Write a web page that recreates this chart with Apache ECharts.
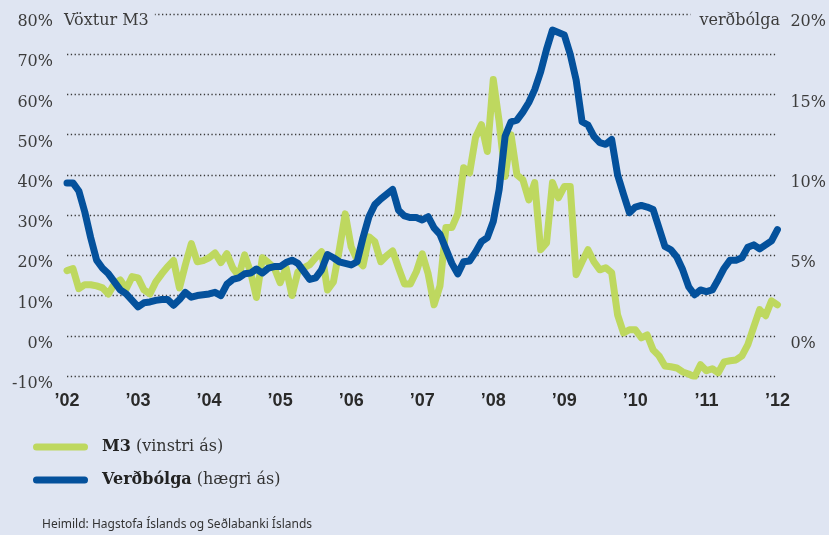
<!DOCTYPE html>
<html>
<head>
<meta charset="utf-8">
<title>Vöxtur M3 og verðbólga</title>
<script src="https://cdn.jsdelivr.net/npm/echarts@6/dist/echarts.min.js"></script>
<style>
	html, body { margin: 0; padding: 0; background: #dfe5f2; }
	#chart { width: 829px; height: 535px; }
</style>
</head>
<body>
<div id="chart"></div>
<script>
// mánuðir jan 2002 - jan 2012
const years = ['2002', '2003', '2004', '2005', '2006', '2007', '2008', '2009', '2010', '2011', '2012']
const months = ['01', '02', '03', '04', '05', '06', '07', '08', '09', '10', '11', '12']

// M3, 12 mánaða vöxtur (vinstri ás, %)
const m3 = [
	16.2, 16.7, 11.7, 12.7, 12.7, 12.4, 11.9, 10.4, 12.9, 13.9, 11.7, 14.7,
	14.4, 11.4, 10.4, 13.4, 15.4, 17.2, 18.7, 11.9, 17.7, 22.9, 18.4, 18.7,
	19.4, 20.6, 18.2, 20.4, 16.9, 14.9, 20.1, 15.9, 9.5, 19.4, 18.2, 16.9,
	13.2, 16.9, 10.0, 15.9, 16.9, 17.7, 19.4, 20.9, 11.4, 13.4, 21.4, 30.3,
	22.1, 18.9, 17.4, 24.6, 23.4, 18.4, 19.9, 21.1, 16.9, 12.9, 12.9, 15.9,
	20.4, 15.4, 7.7, 12.4, 26.9, 26.9, 30.3, 41.8, 40.5, 49.3, 52.5, 45.8,
	63.7, 53.2, 39.6, 50.0, 40.0, 38.8, 33.8, 38.1, 21.4, 23.1, 38.1, 34.3,
	37.1, 37.1, 15.2, 18.4, 21.4, 18.4, 16.4, 16.9, 15.7, 5.2, 0.7, 1.5,
	1.5, -0.5, 0.2, -3.5, -5.0, -7.5, -7.7, -8.0, -9.0, -9.5, -10.2, -7.2,
	-8.7, -8.2, -9.2, -6.5, -6.2, -6.0, -5.0, -2.2, 2.2, 6.5, 5.0, 8.7,
	7.7
]

// verðbólga (hægri ás, %)
const inflation = [
	9.5, 9.5, 9.0, 7.7, 6.1, 4.7, 4.2, 3.85, 3.35, 2.85, 2.6, 2.2,
	1.8, 2.05, 2.1, 2.2, 2.25, 2.25, 1.9, 2.25, 2.7, 2.4, 2.5, 2.55,
	2.6, 2.7, 2.5, 3.2, 3.5, 3.6, 3.85, 3.9, 4.15, 3.9, 4.2, 4.3,
	4.3, 4.55, 4.7, 4.5, 4.0, 3.5, 3.6, 4.1, 5.05, 4.85, 4.6, 4.5,
	4.4, 4.6, 6.1, 7.4, 8.15, 8.5, 8.8, 9.1, 7.8, 7.45, 7.35, 7.35,
	7.2, 7.4, 6.7, 6.3, 5.4, 4.5, 3.85, 4.6, 4.65, 5.2, 5.85, 6.1,
	7.1, 9.1, 12.4, 13.3, 13.4, 13.9, 14.5, 15.3, 16.4, 17.8, 19.0, 18.85,
	18.7, 17.5, 15.9, 13.3, 13.1, 12.4, 12.0, 11.9, 12.2, 10.0, 8.8, 7.65,
	8.0, 8.1, 8.0, 7.85, 6.7, 5.55, 5.35, 4.9, 4.1, 3.05, 2.55, 2.85,
	2.75, 2.85, 3.5, 4.2, 4.7, 4.7, 4.85, 5.5, 5.65, 5.4, 5.65, 5.9,
	6.6
]

// flokkar á x-ás
let categories = []
years.forEach(y => {
	months.forEach(m => {
		if (categories.length < m3.length) categories.push(y + '-' + m)
	})
})

const bg = '#dfe5f2'
const green = '#bed85f'
const blue = '#04519c'
const serif = 'DejaVu Serif'

let myChart = echarts.init(document.getElementById('chart'));

let option = {
	backgroundColor: bg,
	animation: false,
	title: [
		{
			text: 'Vöxtur M3',
			left: 62,
			top: 13,
			padding: [0, 6, 4, 2],
			backgroundColor: bg,
			textStyle: { fontFamily: serif, fontSize: 16, fontWeight: 'normal', color: '#3c3c3c' }
		},
		{
			text: 'verðbólga',
			right: 47,
			top: 13,
			padding: [0, 2, 4, 9],
			backgroundColor: bg,
			textStyle: { fontFamily: serif, fontSize: 16, fontWeight: 'normal', color: '#3c3c3c' }
		}
	],
	legend: {
		orient: 'vertical',
		left: 33,
		top: 438,
		padding: 0,
		itemWidth: 55,
		itemHeight: 7,
		itemGap: 15,
		icon: 'path://M3.5,0 H51.5 A3.5,3.5 0 0 1 51.5,7 H3.5 A3.5,3.5 0 0 1 3.5,0 Z',
		data: ['M3', 'Verðbólga'],
		formatter: name => name === 'M3' ? '{b|M3} (vinstri ás)' : '{b|Verðbólga} (hægri ás)',
		textStyle: {
			fontFamily: serif,
			fontSize: 16,
			color: '#333',
			lineHeight: 18,
			padding: [0, 0, 0, 9],
			rich: {
				b: { fontFamily: serif, fontSize: 16, fontWeight: 'bold', color: '#222' }
			}
		}
	},
	graphic: [
		{
			type: 'text',
			left: 42,
			top: 519,
			style: {
				text: 'Heimild: Hagstofa Íslands og Seðlabanki Íslands',
				font: '12px "Noto Sans"',
				fill: '#333'
			}
		}
	],
	grid: {
		left: 67,
		right: 49,
		top: 14,
		bottom: 159
	},
	xAxis: {
		type: 'category',
		boundaryGap: false,
		data: categories,
		axisLine: { show: false },
		axisTick: { show: false },
		splitLine: { show: false },
		axisLabel: {
			interval: idx => idx % 12 === 0,
			formatter: v => '’' + v.slice(2, 4),
			margin: 16,
			fontFamily: 'Liberation Sans',
			fontWeight: 'bold',
			fontSize: 18,
			color: '#2a2a2a'
		}
	},
	yAxis: [
		{
			type: 'value',
			min: -10,
			max: 80,
			interval: 10,
			axisLine: { show: false },
			axisTick: { show: false },
			axisLabel: {
				formatter: '{value}%',
				margin: 14,
				verticalAlign: 'top',
				lineHeight: 16,
				fontFamily: serif,
				fontSize: 16,
				color: '#3c3c3c'
			},
			splitLine: { //punktalínur
				lineStyle: {
					color: '#3a3a3a',
					width: 1.3,
					type: [1.3, 2.5]
				}
			}
		},
		{
			type: 'value',
			min: -2.5,
			max: 20,
			interval: 2.5,
			axisLine: { show: false },
			axisTick: { show: false },
			splitLine: { show: false },
			axisLabel: {
				formatter: v => (v % 5 === 0 ? v + '%' : ''),
				margin: 13,
				verticalAlign: 'top',
				lineHeight: 16,
				fontFamily: serif,
				fontSize: 16,
				color: '#3c3c3c'
			}
		}
	],
	series: [
		{
			name: 'M3',
			type: 'line',
			yAxisIndex: 0,
			data: m3,
			symbol: 'none',
			itemStyle: { color: green },
			lineStyle: { color: green, width: 7, cap: 'round', join: 'round' }
		},
		{
			name: 'Verðbólga',
			type: 'line',
			yAxisIndex: 1,
			data: inflation,
			symbol: 'none',
			itemStyle: { color: blue },
			lineStyle: { color: blue, width: 7, cap: 'round', join: 'round' }
		}
	]
}

myChart.setOption(option);
</script>
</body>
</html>
